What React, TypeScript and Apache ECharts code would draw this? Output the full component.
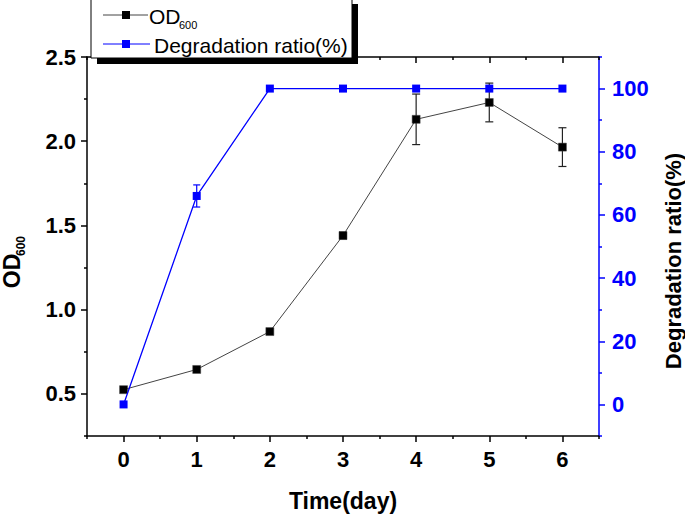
import React, { useEffect, useRef } from "react";
import * as echarts from "echarts";

const days = [0, 1, 2, 3, 4, 5, 6];
const od600 = [0.525, 0.645, 0.87, 1.44, 2.13, 2.23, 1.965];
const odErr = [0, 0, 0, 0.02, 0.15, 0.115, 0.115];
const degradation = [0, 66, 100, 100, 100, 100, 100];
const degErr = [0, 3.5, 0, 0, 0, 0, 0];

const xMajor = [0, 1, 2, 3, 4, 5, 6];
const xMinor = [-0.5, 0.5, 1.5, 2.5, 3.5, 4.5, 5.5, 6.5];
const yLeftMajor = [0.5, 1.0, 1.5, 2.0, 2.5];
const yLeftMinor = [0.25, 0.75, 1.25, 1.75, 2.25];
const yRightMajor = [0, 20, 40, 60, 80, 100];
const yRightMinor = [-10, 10, 30, 50, 70, 90, 110];

const FONT = "'Liberation Sans', Arial, sans-serif";
const BLUE = "#0000ff";
const TICK_FS = 22;

function errorBar(color: string, capHalf: number) {
  return (params: any, api: any) => {
    const x = api.value(0);
    const lo = api.value(1);
    const hi = api.value(2);
    const p1 = api.coord([x, lo]);
    const p2 = api.coord([x, hi]);
    const st = { stroke: color, lineWidth: 1.2 };
    return {
      type: "group",
      children: [
        { type: "line", shape: { x1: p1[0], y1: p1[1], x2: p2[0], y2: p2[1] }, style: st },
        { type: "line", shape: { x1: p1[0] - capHalf, y1: p1[1], x2: p1[0] + capHalf, y2: p1[1] }, style: st },
        { type: "line", shape: { x1: p2[0] - capHalf, y1: p2[1], x2: p2[0] + capHalf, y2: p2[1] }, style: st },
      ],
    };
  };
}

export default function App() {
  const ref = useRef<HTMLDivElement>(null);
  useEffect(() => {
    if (!ref.current) return;
    const chart = echarts.init(ref.current, null, { renderer: "svg" });
    const xRange = { min: -0.5, max: 6.5 };
    const baseX = { type: "value", ...xRange, splitLine: { show: false } };
    const odErrData = days
      .map((d, i) => [d, od600[i] - odErr[i], od600[i] + odErr[i]])
      .filter((_, i) => odErr[i] > 0);
    const degErrData = days
      .map((d, i) => [d, degradation[i] - degErr[i], degradation[i] + degErr[i]])
      .filter((_, i) => degErr[i] > 0);
    const blackLine = (show: boolean) => ({ show, onZero: false, lineStyle: { color: "#000", width: 1.5 } });
    const blueLine = (show: boolean) => ({ show, onZero: false, lineStyle: { color: BLUE, width: 1.5 } });

    chart.setOption({
      animation: false,
      backgroundColor: "#fff",
      grid: { left: 87, top: 57, width: 512, height: 379 },
      xAxis: [
        {
          ...baseX,
          position: "bottom",
          axisLine: blackLine(true),
          axisTick: { show: true, customValues: xMajor, length: 6, lineStyle: { color: "#000", width: 1.5 } },
          axisLabel: {
            show: true,
            customValues: xMajor,
            fontSize: TICK_FS,
            fontWeight: "bold",
            color: "#000",
            fontFamily: FONT,
            margin: 12,
          },
        },
        {
          ...baseX,
          position: "bottom",
          axisLine: blackLine(false),
          axisTick: { show: true, customValues: xMinor, length: 3, lineStyle: { color: "#000", width: 1.5 } },
          axisLabel: { show: false },
        },
        {
          ...baseX,
          position: "top",
          axisLine: blackLine(true),
          axisTick: { show: true, inside: true, customValues: xMajor, length: 6, lineStyle: { color: "#000", width: 1.5 } },
          axisLabel: { show: false },
        },
        {
          ...baseX,
          position: "top",
          axisLine: blackLine(false),
          axisTick: { show: true, inside: true, customValues: xMinor, length: 3, lineStyle: { color: "#000", width: 1.5 } },
          axisLabel: { show: false },
        },
      ],
      yAxis: [
        {
          type: "value",
          position: "left",
          min: 0.25,
          max: 2.5,
          splitLine: { show: false },
          axisLine: blackLine(true),
          axisTick: { show: true, customValues: yLeftMajor, length: 6, lineStyle: { color: "#000", width: 1.5 } },
          axisLabel: {
            show: true,
            customValues: yLeftMajor,
            formatter: (v: number) => v.toFixed(1),
            fontSize: TICK_FS,
            fontWeight: "bold",
            color: "#000",
            fontFamily: FONT,
            margin: 11,
          },
        },
        {
          type: "value",
          position: "right",
          min: -10,
          max: 110,
          splitLine: { show: false },
          axisLine: blueLine(true),
          axisTick: { show: true, customValues: yRightMajor, length: 6, lineStyle: { color: BLUE, width: 1.5 } },
          axisLabel: {
            show: true,
            customValues: yRightMajor,
            fontSize: TICK_FS,
            fontWeight: "bold",
            color: BLUE,
            fontFamily: FONT,
            margin: 13,
          },
        },
        {
          type: "value",
          position: "left",
          min: 0.25,
          max: 2.5,
          splitLine: { show: false },
          axisLine: blackLine(false),
          axisTick: { show: true, customValues: yLeftMinor, length: 3, lineStyle: { color: "#000", width: 1.5 } },
          axisLabel: { show: false },
        },
        {
          type: "value",
          position: "right",
          min: -10,
          max: 110,
          splitLine: { show: false },
          axisLine: blueLine(false),
          axisTick: { show: true, customValues: yRightMinor, length: 3, lineStyle: { color: BLUE, width: 1.5 } },
          axisLabel: { show: false },
        },
      ],
      series: [
        {
          type: "custom",
          name: "odErr",
          xAxisIndex: 0,
          yAxisIndex: 0,
          renderItem: errorBar("#222", 4),
          data: odErrData,
          encode: { x: 0, y: [1, 2] },
          z: 1,
        },
        {
          type: "line",
          name: "OD600",
          xAxisIndex: 0,
          yAxisIndex: 0,
          data: days.map((d, i) => [d, od600[i]]),
          symbol: "rect",
          symbolSize: 8,
          showSymbol: true,
          itemStyle: { color: "#000", borderColor: "#444", borderWidth: 0.5 },
          lineStyle: { color: "#444", width: 1 },
          z: 2,
        },
        {
          type: "custom",
          name: "degErr",
          xAxisIndex: 0,
          yAxisIndex: 1,
          renderItem: errorBar(BLUE, 3.5),
          data: degErrData,
          encode: { x: 0, y: [1, 2] },
          z: 3,
        },
        {
          type: "line",
          name: "Degradation ratio(%)",
          xAxisIndex: 0,
          yAxisIndex: 1,
          data: days.map((d, i) => [d, degradation[i]]),
          symbol: "rect",
          symbolSize: 8,
          showSymbol: true,
          itemStyle: { color: BLUE },
          lineStyle: { color: BLUE, width: 1.3 },
          z: 4,
        },
      ],
      graphic: [
        { type: "rect", z: 100, shape: { x: 97, y: 4, width: 261, height: 60 }, style: { fill: "#000" } },
        { type: "rect", z: 101, shape: { x: 91, y: -2, width: 261, height: 60 }, style: { fill: "#fff", stroke: "#000", lineWidth: 1 } },
        { type: "line", z: 102, shape: { x1: 103, y1: 15, x2: 148, y2: 15 }, style: { stroke: "#444", lineWidth: 1 } },
        { type: "rect", z: 103, shape: { x: 122, y: 11, width: 8, height: 8 }, style: { fill: "#000" } },
        {
          type: "text",
          z: 103,
          x: 149,
          y: 16,
          style: { text: "OD", fontSize: 21, fontFamily: FONT, fill: "#000", align: "left", verticalAlign: "middle" },
        },
        {
          type: "text",
          z: 103,
          x: 179,
          y: 25,
          style: { text: "600", fontSize: 11, fontFamily: FONT, fill: "#000", align: "left", verticalAlign: "middle" },
        },
        { type: "line", z: 102, shape: { x1: 103, y1: 44, x2: 150, y2: 44 }, style: { stroke: BLUE, lineWidth: 1 } },
        { type: "rect", z: 103, shape: { x: 122, y: 40, width: 8, height: 8 }, style: { fill: BLUE } },
        {
          type: "text",
          z: 103,
          x: 154,
          y: 45,
          style: {
            text: "Degradation ratio(%)",
            fontSize: 21,
            fontFamily: FONT,
            fill: "#000",
            align: "left",
            verticalAlign: "middle",
          },
        },
        {
          type: "text",
          z: 50,
          x: 343,
          y: 501,
          style: { text: "Time(day)", fontSize: 23, fontWeight: "bold", fontFamily: FONT, fill: "#000", align: "center", verticalAlign: "middle" },
        },
        {
          type: "text",
          z: 50,
          x: 12,
          y: 271,
          rotation: Math.PI / 2,
          style: { text: "OD", fontSize: 23, fontWeight: "bold", fontFamily: FONT, fill: "#000", align: "center", verticalAlign: "middle" },
        },
        {
          type: "text",
          z: 50,
          x: 21,
          y: 246,
          rotation: Math.PI / 2,
          style: { text: "600", fontSize: 12, fontWeight: "bold", fontFamily: FONT, fill: "#000", align: "center", verticalAlign: "middle" },
        },
        {
          type: "text",
          z: 50,
          x: 673,
          y: 261,
          rotation: Math.PI / 2,
          style: {
            text: "Degradation ratio(%)",
            fontSize: 22,
            fontWeight: "bold",
            fontFamily: FONT,
            fill: "#000",
            align: "center",
            verticalAlign: "middle",
          },
        },
      ],
    });
    return () => chart.dispose();
  }, []);
  return <div ref={ref} style={{ position: "fixed", left: 0, top: 0, width: 685, height: 515 }} />;
}
